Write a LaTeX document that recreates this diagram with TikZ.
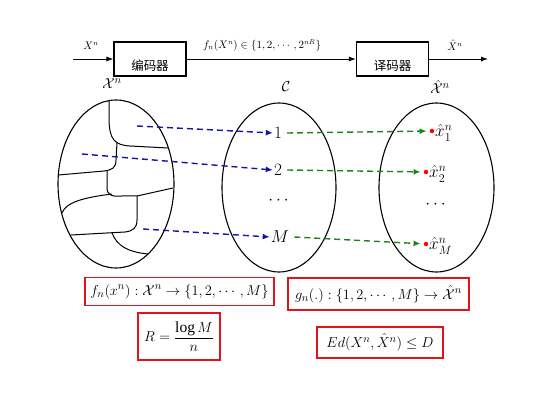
\documentclass[tikz,border=0pt]{standalone}
\usepackage{amsmath}
\usepackage{fontspec}
\setmainfont{Liberation Serif}
\newfontfamily\cjk{Noto Sans CJK SC}
\usetikzlibrary{shapes.geometric,arrows.meta}
\definecolor{dblue}{RGB}{20,20,170}
\definecolor{dgreen}{RGB}{30,130,30}
\definecolor{rbox}{RGB}{225,20,30}
\tikzset{
  box/.style={draw,line width=1.3pt,minimum width=72pt,minimum height=34pt,inner sep=0pt},
  arr/.style={line width=0.8pt,-{Latex[length=7pt,width=5pt]}},
  ell/.style={draw,ellipse,line width=1.1pt,inner sep=0pt},
  item/.style={font=\fontsize{17}{20}\selectfont,inner sep=1pt},
  small/.style={font=\fontsize{10.5}{13}\selectfont,inner sep=0pt},
  setl/.style={font=\fontsize{15}{17}\selectfont,inner sep=0pt},
  bluearr/.style={dblue,line width=1.4pt,dash pattern=on 6pt off 4pt,-{Latex[length=7pt,width=6pt]}},
  greenarr/.style={dgreen,line width=1.4pt,dash pattern=on 6pt off 4pt,-{Latex[length=7pt,width=6pt]}},
  rdot/.style={circle,fill=red,inner sep=0pt,minimum size=4.5pt},
  redbox/.style={draw=rbox,line width=1.8pt,inner sep=0pt,font=\fontsize{15.5}{18}\selectfont},
  region/.style={line width=1pt}
}
\begin{document}
\begin{tikzpicture}[x=1pt,y=-1pt]
\useasboundingbox (0,0) rectangle (550,404);
% top chain
\node[box] (enc) at (150,59) {};
\node[box] (dec) at (392.5,59) {};
\node[font=\fontsize{12.5}{14}\selectfont] (enct) at (150,66) {\cjk 编码器};
\node[font=\fontsize{12.5}{14}\selectfont] (dect) at (392.5,66) {\cjk 译码器};
\coordinate (in) at (73,59);
\coordinate (out) at (488,59);
\draw[arr] (in) -- (enc.west);
\draw[arr] (enc.east) -- (dec.west);
\draw[arr] (dec.east) -- (out);
\node[small] (xin) at (91,46) {$X^n$};
\node[small] (fl) at (262,45) {$f_n(X^n)\in\{1,2,\cdots,2^{nR}\}$};
\node[small] (xout) at (455,45) {$\hat X^n$};
% ellipses
\node[ell,minimum width=116pt,minimum height=168pt] (A) at (116,184) {};
\node[ell,minimum width=114pt,minimum height=169pt] (C) at (279,187.5) {};
\node[ell,minimum width=115pt,minimum height=169pt] (B) at (436.5,187.5) {};
\node[setl] (Al) at (112,84) {$\mathcal{X}^n$};
\node[setl] (Cl) at (286,87) {$\mathcal{C}$};
\node[setl] (Bl) at (440,87) {$\hat{\mathcal{X}}^n$};
% regions in left ellipse
\draw[region] (109,100) -- (109,118) .. controls (109,140) and (115,145) .. (130,146) -- (168,148);
\draw[region] (117,143) -- (116,160) .. controls (116,168) and (112,170) .. (104,171) -- (58.5,175);
\draw[region] (107,171) -- (107,188) .. controls (107,195) and (112,197) .. (122,196) -- (137,196) -- (173,188);
\draw[region] (112,194) .. controls (80,198) and (66,203) .. (62,213);
\draw[region] (137,196) -- (137,220) .. controls (137,228) and (133,231) .. (125,232) -- (71,235);
\draw[region] (112,233) .. controls (117,246) and (128,252) .. (148,254);
% middle items
\node[item] (c1) at (278,133) {$1$};
\node[item] (c2) at (278,170) {$2$};
\node[item] (cd) at (280,201) {$\cdots$};
\node[item] (cM) at (280,237) {$M$};
% right items
\node[rdot] (d1) at (432,131) {};
\node[rdot] (d2) at (426,172) {};
\node[rdot] (dM) at (426,244) {};
\node[item,anchor=west] (x1) at (434,133) {$\hat x_1^n$};
\node[item,anchor=west] (x2) at (428,174) {$\hat x_2^n$};
\node[item] (xd) at (437,205) {$\cdots$};
\node[item,anchor=west] (xM) at (428,246) {$\hat x_M^n$};
% arrows
\coordinate (s1) at (137,126);
\coordinate (s2) at (82,154);
\coordinate (s3) at (143,229);
\draw[bluearr] (s1) -- (c1.west);
\draw[bluearr] (s2) -- (c2.west);
\draw[bluearr] (s3) -- (cM.west);
\draw[greenarr,shorten >=3pt] (c1.east) ++(4,0) -- (d1);
\draw[greenarr,shorten >=3pt] (c2.east) ++(4,0) -- (d2);
\draw[greenarr,shorten >=3pt] (cM.east) ++(4,0) -- (dM);
% red boxes
\node[redbox,minimum width=189pt,minimum height=28pt] (fb) at (179.5,291.5) {$f_n(x^n):\mathcal{X}^n\to\{1,2,\cdots,M\}$};
\node[redbox,minimum width=181pt,minimum height=32pt] (gb) at (378.5,294) {$g_n(.):\{1,2,\cdots,M\}\to\hat{\mathcal{X}}^n$};
\node[redbox,minimum width=82pt,minimum height=47pt] (rb) at (179,336.5) {$R=\dfrac{\log M}{n}$};
\node[redbox,minimum width=126pt,minimum height=31pt] (db) at (380,342.5) {$Ed(X^n,\hat X^n)\le D$};
\end{tikzpicture}
\end{document}
